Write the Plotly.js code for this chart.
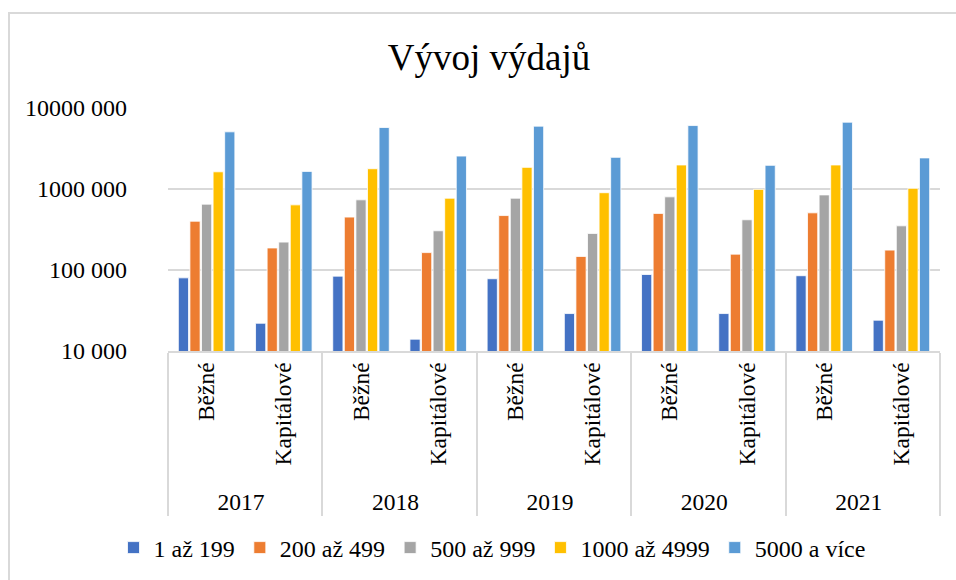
<!DOCTYPE html>
<html>
<head>
<meta charset="utf-8">
<script src="https://cdn.plot.ly/plotly-3.0.1.min.js"></script>
<style>
  html, body { margin: 0; padding: 0; background: #fff; }
  #wrap { position: relative; width: 956px; height: 580px; overflow: hidden; }
  #chart { width: 956px; height: 580px; }
  #frame { position: absolute; left: 8px; top: 12px; width: 1000px; height: 1000px;
           border-left: 2px solid #d9d9d9; border-top: 2px solid #d9d9d9; pointer-events: none; }
</style>
</head>
<body>
<div id="wrap"><div id="chart"></div><div id="frame"></div></div>
<script>
const years = ["2017", "2017", "2018", "2018", "2019", "2019", "2020", "2020", "2021", "2021"];
const types = ["Běžné", "Kapitálové", "Běžné", "Kapitálové", "Běžné", "Kapitálové", "Běžné", "Kapitálové", "Běžné", "Kapitálové"];

const seriesNames = ["1 až 199", "200 až 499", "500 až 999", "1000 až 4999", "5000 a více"];
const s1 = [80000, 22000, 84000, 14000, 78000, 29000, 88000, 29000, 85000, 24000];
const s2 = [400000, 187000, 450000, 164000, 470000, 147000, 500000, 157000, 508000, 176000];
const s3 = [650000, 221000, 735000, 305000, 770000, 283000, 800000, 417000, 845000, 351000];
const s4 = [1630000, 637000, 1780000, 770000, 1850000, 900000, 1980000, 990000, 1980000, 1020000];
const s5 = [5080000, 1650000, 5740000, 2550000, 5970000, 2460000, 6070000, 1960000, 6680000, 2420000];

const tickVals = [10000, 100000, 1000000, 10000000];
const tickText = ["10 000", "100 000", "1000 000", "10000 000"];

const colors = ["#4472C4", "#ED7D31", "#A5A5A5", "#FFC000", "#5B9BD5"];
const allSeries = [s1, s2, s3, s4, s5];

const font = "'Liberation Serif', 'Times New Roman', serif";

const data = allSeries.map((vals, i) => ({
  type: "bar",
  name: seriesNames[i],
  x: [years, types],
  y: vals,
  marker: { color: colors[i], line: { color: "#ffffff", width: 0.8 } },
  hoverinfo: "none"
}));

const W = 956, H = 580, ml = 168, mr = 16, mt = 108, mb = 20;
const paperH = H - mt - mb, paperW = W - ml - mr;

const layout = {
  width: W, height: H,
  margin: { l: ml, r: mr, t: mt, b: mb, autoexpand: false },
  paper_bgcolor: "#ffffff",
  plot_bgcolor: "#ffffff",
  font: { family: font, color: "#000000", size: 22 },
  title: { text: "Vývoj výdajů", font: { family: font, size: 37, color: "#000" },
           x: 489 / W, xref: "container", xanchor: "center",
           y: 1 - 57 / H, yref: "container", yanchor: "middle" },
  barmode: "group",
  bargap: 0.25,
  bargroupgap: 0.12,
  showlegend: true,
  legend: { orientation: "h", x: (492 - ml) / paperW, xref: "paper", xanchor: "center",
            y: (H - mb - 548) / paperH, yanchor: "middle", font: { family: font, size: 24 },
            itemwidth: 30, traceorder: "normal", bgcolor: "rgba(0,0,0,0)" },
  xaxis: {
    type: "multicategory",
    tickangle: -90,
    showline: true, linecolor: "#d9d9d9", linewidth: 2,
    showdividers: true, dividercolor: "#d9d9d9", dividerwidth: 2,
    ticks: "", tickfont: { family: font, size: 23.5 },
    showgrid: false, automargin: false
  },
  yaxis: {
    type: "log",
    range: [4, 7],
    domain: [(H - mb - 351) / paperH, 1],
    tickvals: tickVals,
    ticktext: tickText,
    showgrid: true, gridcolor: "#d9d9d9", gridwidth: 2,
    zeroline: false, showline: false,
    ticks: "", tickfont: { family: font, size: 24 },
    ticklabelstandoff: 40, automargin: false
  }
};

Plotly.newPlot("chart", data, layout, { displayModeBar: false, staticPlot: true });
</script>
</body>
</html>
